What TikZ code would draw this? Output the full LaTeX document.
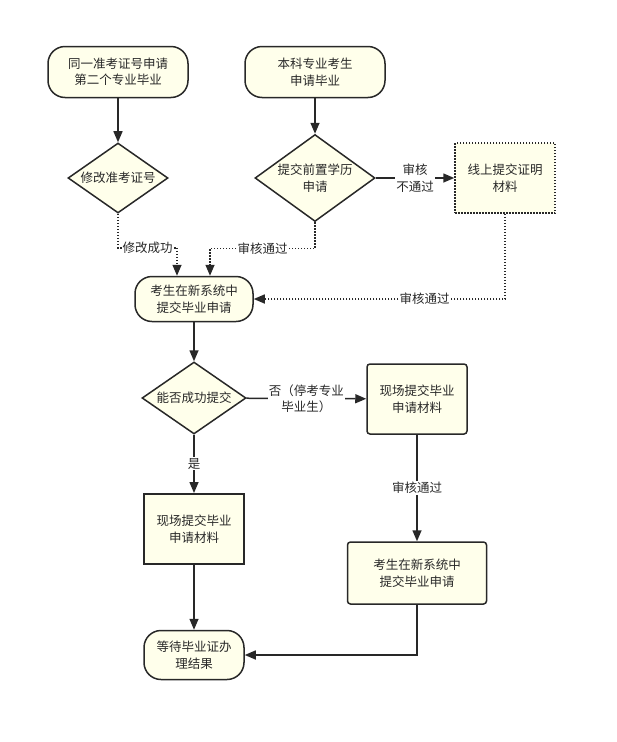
\documentclass[tikz,border=0pt]{standalone}
\usepackage{fontspec}
\setmainfont{Noto Sans CJK SC}
\usetikzlibrary{shapes.geometric,arrows.meta}
\definecolor{fillc}{RGB}{255,255,235}
\definecolor{linec}{RGB}{40,40,40}
\definecolor{txtc}{RGB}{40,40,40}
\begin{document}
\begin{tikzpicture}[x=1pt,y=-1pt,
  base/.style={draw=linec, line width=1.5pt, fill=fillc, font=\fontsize{12.5}{16.5}\selectfont, align=center, inner sep=0pt, text=txtc},
  pill/.style={base, rectangle, rounded corners=17pt},
  dia/.style={base, diamond},
  rbox/.style={base, rectangle, rounded corners=3pt},
  sbox/.style={base, rectangle, line width=2pt},
  dbox/.style={base, rectangle, dash pattern=on 1.5pt off 1.5pt},
  arr/.style={draw=linec, line width=1.5pt, -{Triangle[length=11pt,width=9pt]}},
  darr/.style={arr, dash pattern=on 1.5pt off 1.5pt},
  lbl/.style={fill=white, font=\fontsize{12.5}{16.5}\selectfont, align=center, inner sep=1pt, text=txtc}
]
\useasboundingbox (0,0) rectangle (617,742);
\node[pill, minimum width=140pt, minimum height=51pt] (n1) at (118,72) {同一准考证号申请\\第二个专业毕业};
\node[pill, minimum width=140pt, minimum height=51pt] (n2) at (315,72) {本科专业考生\\申请毕业};
\node[dia, shape aspect=1.43, minimum width=100pt, minimum height=70pt] (d1) at (118,178) {修改准考证号};
\node[dia, shape aspect=1.38, minimum width=120pt, minimum height=87pt] (d2) at (315,178) {提交前置学历\\申请};
\node[dbox, minimum width=100pt, minimum height=70pt] (b1) at (505,178) {线上提交证明\\材料};
\node[pill, minimum width=118pt, minimum height=45pt] (n3) at (194,299) {考生在新系统中\\提交毕业申请};
\node[dia, shape aspect=1.44, minimum width=104pt, minimum height=72pt] (d3) at (194,398) {能否成功提交};
\node[rbox, minimum width=100pt, minimum height=70pt] (b2) at (417,399) {现场提交毕业\\申请材料};
\node[sbox, minimum width=100pt, minimum height=70pt] (b3) at (194,529) {现场提交毕业\\申请材料};
\node[rbox, minimum width=139pt, minimum height=62pt] (b4) at (417,573) {考生在新系统中\\提交毕业申请};
\node[pill, minimum width=100pt, minimum height=49pt] (n4) at (194,655) {等待毕业证办\\理结果};

\draw[arr] (n1) -- (d1);
\draw[arr] (n2) -- (d2);
\draw[arr] (d2) -- node[lbl]{审核\\不通过} (b1);
\draw[darr] (d1.south) -- ++(0,34) -| node[lbl, pos=0.25]{修改成功} ([xshift=-17pt]n3.north);
\draw[darr] (d2.south) -- ++(0,26) -| node[lbl, pos=0.25]{审核通过} ([xshift=16pt]n3.north);
\draw[darr] (b1.south) |- node[lbl, pos=0.66]{审核通过} (n3.east);
\draw[arr] (n3) -- (d3);
\draw[arr] (d3) -- node[lbl]{否（停考专业\\毕业生）} (b2);
\draw[arr] (d3) -- node[lbl]{是} (b3);
\draw[arr] (b2) -- node[lbl]{审核通过} (b4);
\draw[arr] (b3) -- (n4);
\draw[arr] (b4.south) |- (n4.east);
\end{tikzpicture}
\end{document}
